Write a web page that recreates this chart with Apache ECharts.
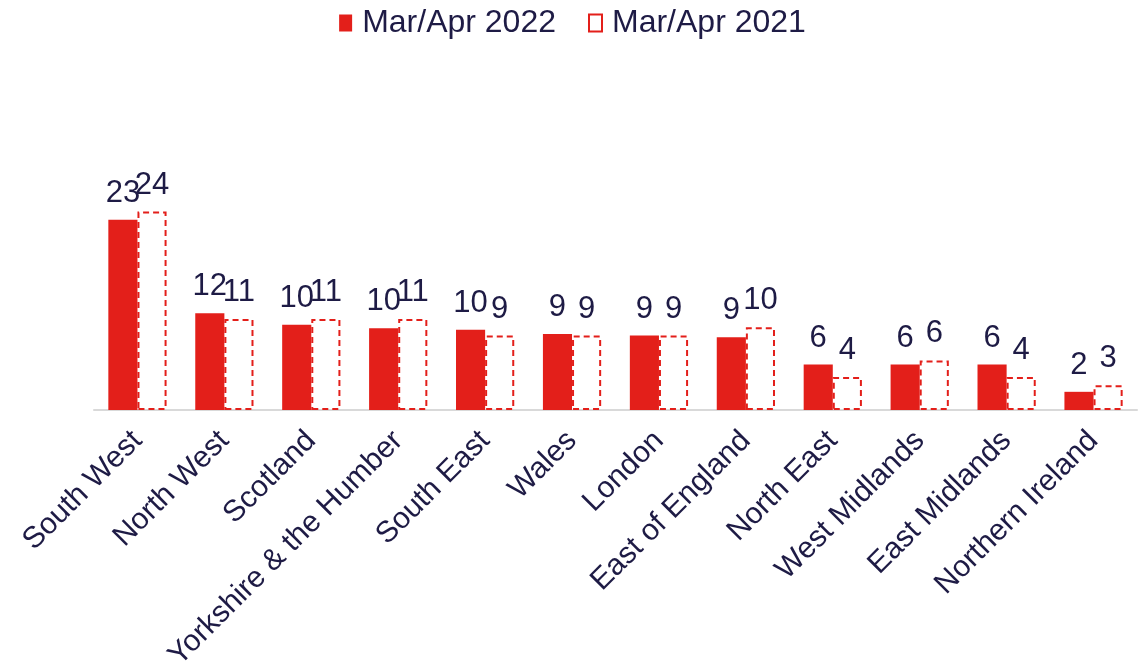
<!DOCTYPE html>
<html>
<head>
<meta charset="utf-8">
<script src="https://cdn.jsdelivr.net/npm/echarts@6/dist/echarts.min.js"></script>
<style>
  html, body { margin: 0; padding: 0; background: #fff; }
  #main { width: 1145px; height: 663px; }
</style>
</head>
<body>
<div id="main"></div>
<script>
const regions = [
  "South West", "North West", "Scotland", "Yorkshire & the Humber",
  "South East", "Wales", "London", "East of England",
  "North East", "West Midlands", "East Midlands", "Northern Ireland"
];
const values2022 = [23.0, 11.7, 10.3, 9.9, 9.7, 9.2, 9.0, 8.8, 5.5, 5.5, 5.5, 2.2];
const values2021 = [24.0, 11.0, 11.0, 11.0, 9.0, 9.0, 9.0, 10.0, 4.0, 6.0, 4.0, 3.0];

const red = "#e31f1a";
const ink = "#1e1b45";
const font = "Liberation Sans, Arial, sans-serif";

const chart = echarts.init(document.getElementById("main"));

const labelStyle = {
  show: true,
  position: "top",
  distance: 11,
  color: ink,
  fontSize: 31,
  fontFamily: font,
  formatter: (p) => Math.round(p.value),
};

chart.setOption({
  animation: false,
  legend: {
    top: 2,
    left: "center",
    icon: "rect",
    itemWidth: 13,
    itemHeight: 17,
    itemGap: 32,
    textStyle: { color: ink, fontSize: 32, fontFamily: font, padding: [0, 0, 0, 5] },
  },
  grid: { left: 94, right: 8, top: 162, bottom: 253, outerBoundsMode: "none" },
  xAxis: {
    type: "category",
    data: regions,
    axisLine: { lineStyle: { color: "#d9d9d9", width: 2 } },
    axisTick: { show: false },
    axisLabel: {
      rotate: 45,
      margin: 26,
      interval: 0,
      color: ink,
      fontSize: 30,
      fontFamily: font,
    },
  },
  yAxis: {
    type: "value",
    min: 0,
    max: 30,
    show: false,
  },
  series: [
    {
      name: "Mar/Apr 2022",
      type: "bar",
      data: values2022,
      barGap: "0%",
      barCategoryGap: "33%",
      itemStyle: { color: red },
      label: labelStyle,
    },
    {
      name: "Mar/Apr 2021",
      type: "bar",
      data: values2021,
      itemStyle: {
        color: "#ffffff",
        borderColor: red,
        borderWidth: 2,
        borderType: [6, 4],
      },
      label: labelStyle,
    },
  ],
});
</script>
</body>
</html>
